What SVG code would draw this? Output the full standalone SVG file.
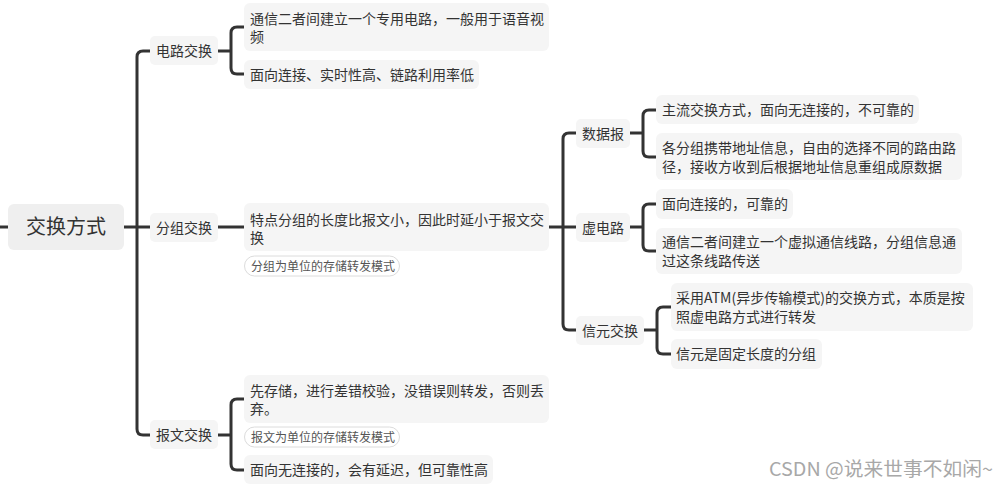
<svg xmlns="http://www.w3.org/2000/svg" width="1008" height="487" viewBox="0 0 1008 487">
<style>
text{font-family:"Noto Sans CJK SC","Liberation Sans",sans-serif;fill:#333;}
.t{font-size:14px;}
.c{text-anchor:middle;}
.n{fill:#f5f5f5;}
.lab{fill:#fff;stroke:#dcdcdc;stroke-width:1;}
.s{font-size:12px;fill:#555;}
.con path{fill:none;stroke:#333;stroke-width:3;stroke-linecap:butt;}
</style>
<rect width="1008" height="487" fill="#fff"/>
<g class="con" id="connectors">
<path d="M0 227 H8"/>
<path d="M124 227 H150"/>
<path d="M150 51 H143 Q137 51 137 57 V429 Q137 435 143 435 H150"/>
<path d="M218 51 H231"/>
<path d="M244 27 H237 Q231 27 231 33 V68 Q231 74 237 74 H244"/>
<path d="M218 227 H244"/>
<path d="M549 227 H576"/>
<path d="M576 133 H569 Q563 133 563 139 V324 Q563 330 569 330 H576"/>
<path d="M630 133 H643"/>
<path d="M656 110 H649 Q643 110 643 116 V151 Q643 157 649 157 H656"/>
<path d="M630 227 H643"/>
<path d="M656 204 H649 Q643 204 643 210 V245 Q643 251 649 251 H656"/>
<path d="M644 330 H657"/>
<path d="M671 307 H663 Q657 307 657 313 V348 Q657 354 663 354 H671"/>
<path d="M218 435 H231"/>
<path d="M244 399 H237 Q231 399 231 405 V464 Q231 470 237 470 H244"/>
</g>
<g id="root">
<rect x="8" y="204" width="116" height="46" rx="6" fill="#efefef"/>
<text x="66" y="234" class="c" font-size="20">交换方式</text>
</g>
<g id="circuit">
<rect class="n" x="150" y="36" width="68" height="29" rx="5"/>
<text x="184" y="55.5" class="t c">电路交换</text>
</g>
<g id="circuit-1">
<rect class="n" x="244" y="3" width="305" height="48" rx="6"/>
<text x="250" y="23.5" class="t">通信二者间建立一个专用电路，一般用于语音视</text>
<text x="250" y="41.5" class="t">频</text>
</g>
<g id="circuit-2">
<rect class="n" x="244" y="60" width="235" height="29" rx="6"/>
<text x="250" y="80" class="t">面向连接、实时性高、链路利用率低</text>
</g>
<g id="packet">
<rect class="n" x="150" y="213" width="68" height="29" rx="5"/>
<text x="184" y="232.5" class="t c">分组交换</text>
</g>
<g id="packet-1">
<rect class="n" x="244" y="203" width="305" height="48" rx="6"/>
<text x="250" y="225" class="t">特点分组的长度比报文小，因此时延小于报文交</text>
<text x="250" y="243" class="t">换</text>
<rect class="lab" x="244.5" y="256" width="155" height="20" rx="10"/>
<text x="251" y="270.5" class="s">分组为单位的存储转发模式</text>
</g>
<g id="datagram">
<rect class="n" x="576" y="119" width="54" height="29" rx="5"/>
<text x="603" y="138.5" class="t c">数据报</text>
</g>
<g id="datagram-1">
<rect class="n" x="656" y="95" width="263" height="29" rx="6"/>
<text x="662" y="114.5" class="t">主流交换方式，面向无连接的，不可靠的</text>
</g>
<g id="datagram-2">
<rect class="n" x="656" y="133" width="306" height="47" rx="6"/>
<text x="662" y="153" class="t">各分组携带地址信息，自由的选择不同的路由路</text>
<text x="662" y="171.5" class="t">径，接收方收到后根据地址信息重组成原数据</text>
</g>
<g id="vc">
<rect class="n" x="576" y="213" width="54" height="29" rx="5"/>
<text x="603" y="232.5" class="t c">虚电路</text>
</g>
<g id="vc-1">
<rect class="n" x="656" y="189" width="137" height="30" rx="6"/>
<text x="662" y="209" class="t">面向连接的，可靠的</text>
</g>
<g id="vc-2">
<rect class="n" x="656" y="228" width="306" height="46" rx="6"/>
<text x="662" y="247" class="t">通信二者间建立一个虚拟通信线路，分组信息通</text>
<text x="662" y="265.5" class="t">过这条线路传送</text>
</g>
<g id="cell">
<rect class="n" x="576" y="316" width="68" height="29" rx="5"/>
<text x="610" y="335.5" class="t c">信元交换</text>
</g>
<g id="cell-1">
<rect class="n" x="671" y="283" width="302" height="48" rx="6"/>
<text x="676" y="303" class="t">采用ATM(异步传输模式)的交换方式，本质是按</text>
<text x="676" y="321.5" class="t">照虚电路方式进行转发</text>
</g>
<g id="cell-2">
<rect class="n" x="671" y="339" width="151" height="30" rx="6"/>
<text x="676" y="359" class="t">信元是固定长度的分组</text>
</g>
<g id="message">
<rect class="n" x="150" y="420" width="68" height="29" rx="5"/>
<text x="184" y="439.5" class="t c">报文交换</text>
</g>
<g id="message-1">
<rect class="n" x="244" y="375" width="305" height="48" rx="6"/>
<text x="250" y="395.5" class="t">先存储，进行差错校验，没错误则转发，否则丢</text>
<text x="250" y="414" class="t">弃。</text>
<rect class="lab" x="244.5" y="427" width="155" height="20" rx="10"/>
<text x="251" y="441.5" class="s">报文为单位的存储转发模式</text>
</g>
<g id="message-2">
<rect class="n" x="244" y="455" width="249" height="29" rx="6"/>
<text x="250" y="474.5" class="t">面向无连接的，会有延迟，但可靠性高</text>
</g>
<text x="769" y="476" font-size="19" textLength="224" lengthAdjust="spacingAndGlyphs" style="fill:#a8a8a8">CSDN @说来世事不如闲~</text>
</svg>
